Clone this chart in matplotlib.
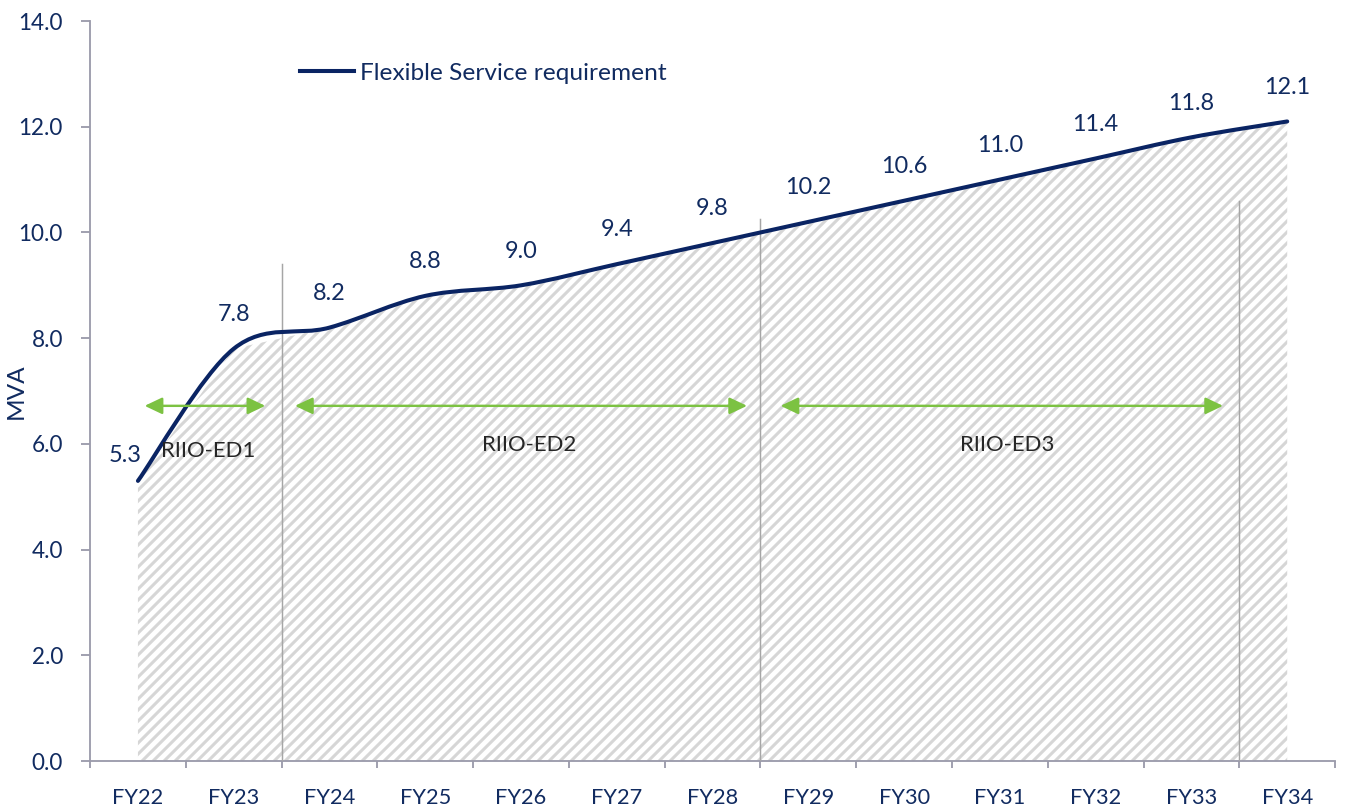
import numpy as np
import matplotlib
matplotlib.use("Agg")
import matplotlib.pyplot as plt
from matplotlib.path import Path
from matplotlib.patches import PathPatch
from matplotlib.collections import LineCollection

# data
years = ["FY22", "FY23", "FY24", "FY25", "FY26", "FY27", "FY28",
         "FY29", "FY30", "FY31", "FY32", "FY33", "FY34"]
mva = [5.3, 7.8, 8.2, 8.8, 9.0, 9.4, 9.8, 10.2, 10.6, 11.0, 11.4, 11.8, 12.1]

# regulatory periods
periods = ["RIIO-ED1", "RIIO-ED2", "RIIO-ED3"]
period_start = [0.07, 1.64, 6.71]
period_end = [1.33, 6.36, 11.33]
period_label_x = [0.73, 4.08, 9.08]
period_label_y = [5.75, 5.87, 5.87]
arrow_y = 6.72
# period dividers (category boundary, height)
divider_x = [1.5, 6.5, 11.5]
divider_top = [9.4, 10.25, 10.6]

navy = "#0a2463"
text_navy = "#112b60"
green = "#7cc242"
axis_grey = "#9b9bab"

DPI = 133
plt.rcParams["font.family"] = ["Lato", "DejaVu Sans"]

fig = plt.figure(figsize=(1346 / DPI, 809 / DPI), dpi=DPI)
ax = fig.add_axes([0.0669, 0.0593, 0.925, 0.9147])

x = np.arange(len(years))

# area under the values (straight segments), hatched with diagonal stripes
area = ax.fill_between(x, 0, mva, facecolor="white", linewidth=0, zorder=1)
ax_w, ax_h = 0.925 * 1346, 0.9147 * 809   # axes size in pixels
step = 11.0
segs = [[(c / ax_w, 0), ((c + ax_h) / ax_w, 1)]
        for c in np.arange(-ax_h, ax_w + step, step)]
stripes = LineCollection(segs, colors="#d6d6d6", linewidths=1.65,
                         transform=ax.transAxes, zorder=1.5)
ax.add_collection(stripes)
stripes.set_clip_path(area.get_paths()[0], ax.transData)

# smoothed line (excel style): bezier segments with catmull-rom control points
pts = np.column_stack([x, mva]).astype(float)
padded = np.vstack([pts[0], pts, pts[-1]])
verts = [tuple(pts[0])]
codes = [Path.MOVETO]
for i in range(len(pts) - 1):
    p0, p1, p2, p3 = padded[i], padded[i + 1], padded[i + 2], padded[i + 3]
    verts += [tuple(p1 + (p2 - p0) / 6.0), tuple(p2 - (p3 - p1) / 6.0), tuple(p2)]
    codes += [Path.CURVE4] * 3
curve = PathPatch(Path(verts, codes), facecolor="none", edgecolor=navy,
                  linewidth=2.2, capstyle="round", zorder=4)
ax.add_patch(curve)
# legend handle
ax.plot([], [], color=navy, linewidth=2.2, label="Flexible Service requirement")

# dividers
for dx, top in zip(divider_x, divider_top):
    ax.plot([dx, dx], [0, top], color="#a6a6a6", linewidth=0.8, zorder=3)

# period arrows + labels
for name, s, e, lx, ly in zip(periods, period_start, period_end,
                              period_label_x, period_label_y):
    ax.annotate("", xy=(e, arrow_y), xytext=(s, arrow_y),
                arrowprops=dict(arrowstyle="<|-|>,head_length=0.8,head_width=0.38",
                                color=green, lw=1.3, shrinkA=0, shrinkB=0),
                zorder=5)
    ax.text(lx, ly, name, ha="center", va="baseline", fontsize=12,
            color="#262626", zorder=6)

# data labels
for i, v in enumerate(mva):
    off = (0, 15) if i > 0 else (-6.8, 10.3)
    ax.annotate(f"{v:.1f}", xy=(i, v), xytext=off, textcoords="offset points",
                ha="center", va="baseline", fontsize=12.7, color=text_navy, zorder=6)

# axes styling
ax.set_xlim(-0.5, len(years) - 0.5)
ax.set_ylim(0, 14)
ax.set_yticks(np.arange(0, 15, 2))
ax.set_yticklabels([f"{t:.1f}" for t in np.arange(0, 15, 2)])
ax.set_xticks(x)
ax.set_xticklabels(years)
ax.set_xticks(np.arange(-0.5, len(years), 1), minor=True)
ax.tick_params(axis="x", which="major", length=0, pad=14.6,
               labelsize=11.8, labelcolor=text_navy)
ax.tick_params(axis="x", which="minor", length=3.8, width=1, color=axis_grey)
ax.tick_params(axis="y", length=4.9, width=1, color=axis_grey, pad=9.7,
               labelsize=12.2, labelcolor=text_navy)
for side in ["top", "right"]:
    ax.spines[side].set_visible(False)
for side in ["left", "bottom"]:
    ax.spines[side].set_color(axis_grey)
    ax.spines[side].set_linewidth(1)
ax.set_ylabel("MVA", fontsize=13.2, color=text_navy)
ax.yaxis.set_label_coords(-0.0506, 0.5)

ax.legend(loc="center left", bbox_to_anchor=(0.1687, 0.9293), frameon=False,
          borderpad=0, borderaxespad=0, handlelength=2.2, handletextpad=0.26,
          prop={"size": 13.2}, labelcolor=text_navy)

fig.savefig("out.png", dpi=DPI)
